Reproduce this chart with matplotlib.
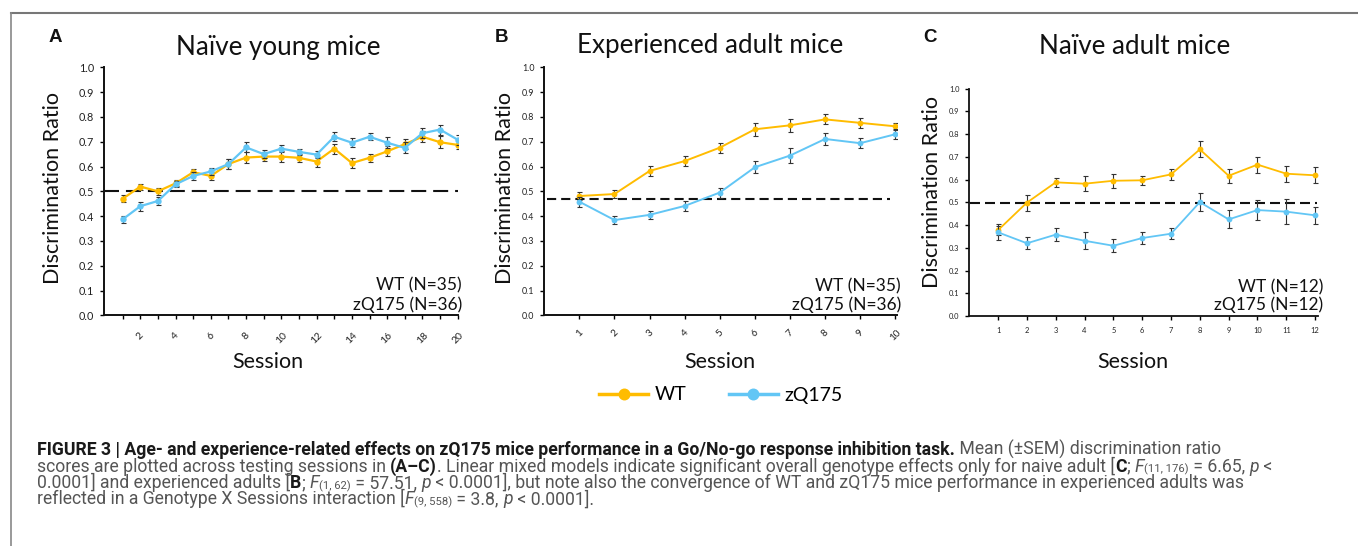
import matplotlib
matplotlib.use('Agg')
import matplotlib.pyplot as plt
from matplotlib import font_manager
from matplotlib.font_manager import FontProperties
from matplotlib.lines import Line2D

# ---------------- data ----------------
sessions_a = list(range(1, 21))
wt_a = [0.47, 0.519, 0.50, 0.532, 0.577, 0.562, 0.61, 0.636, 0.64, 0.64,
        0.635, 0.62, 0.672, 0.614, 0.635, 0.661, 0.69, 0.72, 0.698, 0.687]
wt_a_err = [0.015, 0.012, 0.015, 0.012, 0.012, 0.017, 0.02, 0.022, 0.018, 0.022,
            0.017, 0.02, 0.02, 0.02, 0.017, 0.02, 0.02, 0.022, 0.025, 0.018]
zq_a = [0.387, 0.44, 0.461, 0.528, 0.562, 0.58, 0.61, 0.677, 0.65, 0.672,
        0.659, 0.648, 0.72, 0.696, 0.72, 0.696, 0.675, 0.734, 0.749, 0.708]
zq_a_err = [0.013, 0.018, 0.018, 0.012, 0.017, 0.015, 0.02, 0.02, 0.017, 0.015,
            0.013, 0.015, 0.018, 0.018, 0.015, 0.022, 0.022, 0.02, 0.02, 0.02]
xticklabels_a = [str(s) if s % 2 == 0 else '' for s in sessions_a]

sessions_b = list(range(1, 11))
wt_b = [0.481, 0.489, 0.582, 0.622, 0.676, 0.75, 0.766, 0.79, 0.776, 0.762]
wt_b_err = [0.015, 0.015, 0.02, 0.02, 0.02, 0.025, 0.025, 0.02, 0.02, 0.015]
zq_b = [0.458, 0.384, 0.405, 0.441, 0.495, 0.597, 0.644, 0.711, 0.694, 0.73]
zq_b_err = [0.02, 0.015, 0.015, 0.02, 0.02, 0.025, 0.03, 0.025, 0.02, 0.02]
xticklabels_b = [str(s) for s in sessions_b]

sessions_c = list(range(1, 13))
wt_c = [0.378, 0.499, 0.588, 0.582, 0.595, 0.597, 0.623, 0.733, 0.617, 0.666, 0.626, 0.619]
wt_c_err = [0.02, 0.035, 0.02, 0.033, 0.03, 0.02, 0.025, 0.035, 0.03, 0.035, 0.035, 0.035]
zq_c = [0.368, 0.32, 0.358, 0.331, 0.309, 0.343, 0.362, 0.501, 0.425, 0.466, 0.459, 0.443]
zq_c_err = [0.035, 0.027, 0.028, 0.038, 0.028, 0.025, 0.025, 0.04, 0.04, 0.045, 0.055, 0.038]
xticklabels_c = [str(s) for s in sessions_c]

chance_levels = [0.5, 0.468, 0.497]
yticks = [0.0, 0.1, 0.2, 0.3, 0.4, 0.5, 0.6, 0.7, 0.8, 0.9, 1.0]
ytick_labels = ['%.1f' % v for v in yticks]

titles = ['Naïve young mice', 'Experienced adult mice', 'Naïve adult mice']
panel_letters = ['A', 'B', 'C']
n_text = [('WT (N=35)', 'zQ175 (N=36)'), ('WT (N=35)', 'zQ175 (N=36)'), ('WT (N=12)', 'zQ175 (N=12)')]
series_names = ['WT', 'zQ175']

# ---------------- style ----------------
W, H = 1358, 546
ORANGE = '#FFBC00'
BLUE = '#62C6F5'
plt.rcParams['font.family'] = ['Lato', 'DejaVu Sans']
plt.rcParams['lines.scale_dashes'] = False

def fx(px):
    return px / W

def fy(py):
    return 1 - py / H

fig = plt.figure(figsize=(W / 100, H / 100), dpi=100)

panels = [
    dict(x=sessions_a, wt=wt_a, wte=wt_a_err, zq=zq_a, zqe=zq_a_err, xtl=xticklabels_a,
         rect=(104, 458, 67.3, 315.3), xlim=(-0.06, 20.02), rot=45, tfs=7.5, yfs=7.8,
         hl=(-0.06, 20.0), dash=(10.8, 5.0), hlw=1.5, ms=4.6, lw=1.6, spw=1.4,
         title_xy=(278, 47), letter_xy=(55, 38), ylab_xy=(53, 188), xlab_xy=(268, 362),
         n_xy=(462, 285, 305), xpad=8),
    dict(x=sessions_b, wt=wt_b, wte=wt_b_err, zq=zq_b, zqe=zq_b_err, xtl=xticklabels_b,
         rect=(544.3, 896.7, 67.3, 315.3), xlim=(0.0, 10.04), rot=45, tfs=7.2, yfs=6.4,
         hl=(0.08, 9.85), dash=(6.6, 3.6), hlw=1.5, ms=4.2, lw=1.4, spw=1.4,
         title_xy=(710, 45), letter_xy=(502, 38), ylab_xy=(505, 188), xlab_xy=(720, 362),
         n_xy=(901, 286, 305), xpad=6),
    dict(x=sessions_c, wt=wt_c, wte=wt_c_err, zq=zq_c, zqe=zq_c_err, xtl=xticklabels_c,
         rect=(969.3, 1318, 88.7, 316), xlim=(0.0, 12.1), rot=0, tfs=5.4, yfs=5.4,
         hl=(0.02, 12.08), dash=(7.2, 3.6), hlw=1.5, ms=4.2, lw=1.3, spw=1.3,
         title_xy=(1135, 47), letter_xy=(930, 38), ylab_xy=(932, 192), xlab_xy=(1133, 362),
         n_xy=(1323, 287, 305), xpad=5),
]

for i, p in enumerate(panels):
    l, r, t, b = p['rect']
    ax = fig.add_axes([fx(l), fy(b), fx(r) - fx(l), fy(t) - fy(b)])
    ax.set_xlim(*p['xlim'])
    ax.set_ylim(0, 1)
    for sp in ['top', 'right']:
        ax.spines[sp].set_visible(False)
    for sp in ['left', 'bottom']:
        ax.spines[sp].set_linewidth(p['spw'])
        ax.spines[sp].set_color('#111111')
    ax.set_yticks(yticks)
    ax.set_yticklabels(ytick_labels, fontsize=p['yfs'], color='#222222')
    ax.set_xticks(p['x'])
    ax.set_xticklabels(p['xtl'], fontsize=p['tfs'], rotation=p['rot'], color='#222222')
    ax.tick_params(axis='y', direction='out', length=3, width=1.0, pad=4)
    ax.tick_params(axis='x', direction='out', length=3, width=1.0, pad=p['xpad'])

    ax.hlines(chance_levels[i], p['hl'][0], p['hl'][1], colors='#111111',
              linestyles=(0, p['dash']), linewidth=p['hlw'], zorder=2)

    for ys, es, col, z in [(p['wt'], p['wte'], ORANGE, 3), (p['zq'], p['zqe'], BLUE, 5)]:
        ax.errorbar(p['x'], ys, yerr=es, fmt='none', ecolor='#333333', elinewidth=0.8,
                    capsize=1.8, capthick=0.8, zorder=z)
        ax.plot(p['x'], ys, color=col, lw=p['lw'], marker='o', ms=p['ms'],
                markeredgewidth=0, zorder=z + 0.5)

    # texts
    fig.text(fx(p['title_xy'][0]), fy(p['title_xy'][1]), titles[i], fontsize=18.7,
             ha='center', va='center', color='#111111')
    fig.text(fx(p['letter_xy'][0]), fy(p['letter_xy'][1]), panel_letters[i], fontsize=13.5,
             fontweight='bold', family='Liberation Sans', ha='center', va='center', color='#111111')
    fig.text(fx(p['ylab_xy'][0]), fy(p['ylab_xy'][1]), 'Discrimination Ratio', fontsize=15.5,
             rotation=90, ha='center', va='center', color='#111111')
    fig.text(fx(p['xlab_xy'][0]), fy(p['xlab_xy'][1]), 'Session', fontsize=15.5,
             ha='center', va='center', color='#111111')
    nx, ny1, ny2 = p['n_xy']
    fig.text(fx(nx), fy(ny1), n_text[i][0], fontsize=12.5, ha='right', va='center', color='#111111')
    fig.text(fx(nx), fy(ny2), n_text[i][1], fontsize=12.5, ha='right', va='center', color='#111111')

# legend
handles = [Line2D([], [], color=ORANGE, lw=2.5, marker='o', ms=8.6, markeredgewidth=0),
           Line2D([], [], color=BLUE, lw=2.5, marker='o', ms=8.6, markeredgewidth=0)]
fig.legend(handles, series_names, loc='center', bbox_to_anchor=(fx(721), fy(395)), ncol=2,
           frameon=False, fontsize=14, handlelength=2.5, columnspacing=2.2, handletextpad=0.35)

# border lines
fig.add_artist(Line2D([fx(11), 1], [fy(13), fy(13)], transform=fig.transFigure,
                      color='#777777', lw=1.5))
fig.add_artist(Line2D([fx(11), fx(11)], [fy(13), 0], transform=fig.transFigure,
                      color='#888888', lw=1.2))

# caption
fonts = font_manager.fontManager.ttflist
names = {f.name for f in fonts}
cap_font = 'Roboto' if 'Roboto' in names else 'Liberation Sans'
bold_font_alt = 'Roboto Condensed' if 'Roboto Condensed' in names else cap_font
renderer = fig.canvas.get_renderer()

caption_lines = [
    [("FIGURE 3 | Age- and experience-related effects on zQ175 mice performance in a Go/No-go response inhibition task.", 'bold'),
     (" Mean (±SEM) discrimination ratio", 'reg')],
    [("scores are plotted across testing sessions in ", 'reg'), ("(A–C)", 'bold'),
     (". Linear mixed models indicate significant overall genotype effects only for naive adult [", 'reg'),
     ("C", 'bold'), ("; ", 'reg'), ("F", 'it'), ("(11, 176)", 'sub'), (" = 6.65, ", 'reg'),
     ("p", 'it'), (" <", 'reg')],
    [("0.0001] and experienced adults [", 'reg'), ("B", 'bold'), ("; ", 'reg'), ("F", 'it'),
     ("(1, 62)", 'sub'), (" = 57.51, ", 'reg'), ("p", 'it'),
     (" < 0.0001], but note also the convergence of WT and zQ175 mice performance in experienced adults was", 'reg')],
    [("reflected in a Genotype X Sessions interaction [", 'reg'), ("F", 'it'), ("(9, 558)", 'sub'),
     (" = 3.8, ", 'reg'), ("p", 'it'), (" < 0.0001].", 'reg')],
]
baselines = [455, 471.5, 488, 504.5]

def make_fp(style, size, bfam):
    if style == 'bold':
        return FontProperties(family=bfam, size=size, weight='bold')
    if style == 'it':
        return FontProperties(family=cap_font, size=size, style='italic')
    if style == 'sub':
        return FontProperties(family=cap_font, size=size * 0.64)
    return FontProperties(family=cap_font, size=size)

def run_width(s, fp):
    w1, _, _ = renderer.get_text_width_height_descent(s + 'x', fp, ismath=False)
    w0, _, _ = renderer.get_text_width_height_descent('x', fp, ismath=False)
    return w1 - w0

def line_width(line, size, bfam):
    return sum(run_width(s, make_fp(st, size, bfam)) for s, st in line)

base = 10.0
cap_size = 0.94 * base * (1325 - 37) / line_width(caption_lines[2], base, cap_font)
best = None
for bf in [cap_font, bold_font_alt]:
    err = abs(line_width(caption_lines[0], cap_size, bf) - 0.94 * (1333 - 37))
    if best is None or err < best[0]:
        best = (err, bf)
bold_fam = best[1]

for line, bl in zip(caption_lines, baselines):
    x = 37.0
    for s, st in line:
        fp = make_fp(st, cap_size, bold_fam)
        yoff = 1.0 if st == 'sub' else 0.0
        col = '#1a1a1a' if st == 'bold' else '#555555'
        fig.text(fx(x), fy(bl + yoff), s, fontproperties=fp, ha='left', va='baseline', color=col)
        x += run_width(s, fp)

fig.savefig('out.png', dpi=100)
